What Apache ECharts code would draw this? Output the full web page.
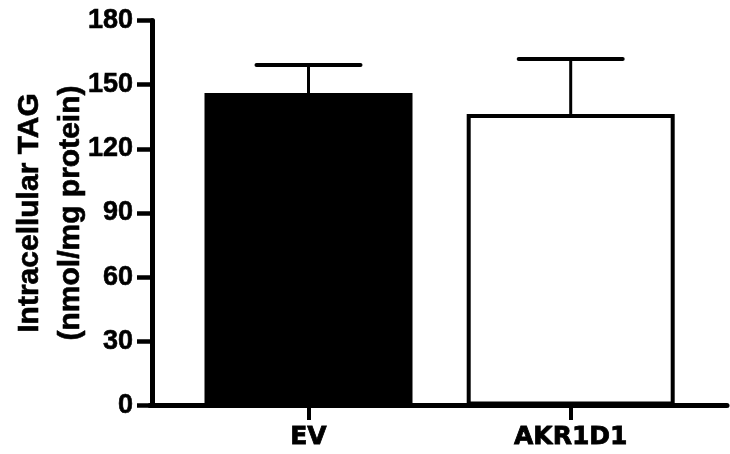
<!DOCTYPE html>
<html><head><meta charset="utf-8">
<script src="https://cdn.jsdelivr.net/npm/echarts@6/dist/echarts.min.js"></script>
<style>html,body{margin:0;padding:0;background:#fff}#c{width:730px;height:454px}</style>
</head><body><div id="c"></div>
<script>
const categories = ['EV', 'AKR1D1'];
const means = [146.1, 136.3];
const upperErrors = [13.1, 25.7];
const yTitleLines = ['Intracellular TAG', '(nmol/mg protein)'];
const fillColors = ['#000000', '#ffffff'];

const arialFont = '"Liberation Sans", Arial, Helvetica, sans-serif';
const wideFont = '"DejaVu Sans", "Liberation Sans", Arial, sans-serif';
const chart = echarts.init(document.getElementById('c'));
const gTop = 20.5, gBottom = 48.5;
chart.setOption({
  animation: false,
  backgroundColor: '#fff',
  grid: [
    { left: 177.4, right: 28.2, top: gTop, bottom: gBottom, containLabel: false, outerBoundsMode: 'none' },
    { left: 150, right: 3, top: gTop, bottom: gBottom, containLabel: false, outerBoundsMode: 'none' }
  ],
  xAxis: [
    { type: 'category', gridIndex: 0, data: categories, boundaryGap: true,
      axisLine: { show: false },
      axisTick: { show: true, alignWithLabel: true, length: 14.5, lineStyle: { width: 4, color: '#000' } },
      axisLabel: { margin: 19, color: '#000', fontSize: 25, fontWeight: 'bold', fontFamily: wideFont,
        textBorderColor: '#000', textBorderWidth: 0.8 },
      splitLine: { show: false } },
    { type: 'value', gridIndex: 1, min: 0, max: 1,
      axisLine: { show: true, onZero: false, lineStyle: { width: 5, color: '#000' } },
      axisTick: { show: false }, axisLabel: { show: false }, splitLine: { show: false } }
  ],
  yAxis: [
    { type: 'value', gridIndex: 0, min: 0, max: 180, interval: 30, offset: 25.4,
      axisLine: { show: true, lineStyle: { width: 5, color: '#000' } },
      axisTick: { show: true, length: 15, lineStyle: { width: 4.5, color: '#000' } },
      axisLabel: { margin: 19, color: '#000', fontSize: 27, fontWeight: 'bold', fontFamily: arialFont,
        textBorderColor: '#000', textBorderWidth: 0.6 },
      splitLine: { show: false },
      name: yTitleLines.join('\n'), nameLocation: 'middle', nameGap: 61, nameRotate: 90,
      nameMoveOverlap: false,
      nameTextStyle: { fontSize: 30, fontWeight: 'bold', lineHeight: 41, color: '#000', fontFamily: arialFont,
        textBorderColor: '#000', textBorderWidth: 0.6 } },
    { type: 'value', gridIndex: 1, min: 0, max: 1, show: false }
  ],
  series: [
    { type: 'bar', xAxisIndex: 0, yAxisIndex: 0, barWidth: 208,
      data: means.map((v, i) => ({ value: v, itemStyle: { color: fillColors[i], borderColor: '#000', borderWidth: 4 } })),
      z: 2 },
    { type: 'custom', xAxisIndex: 0, yAxisIndex: 0, z: 3,
      data: means.map((v, i) => [i, v, v + upperErrors[i]]),
      renderItem: function (params, api) {
        const x = api.value(0);
        const base = api.coord([x, api.value(1)]);
        const hi = api.coord([x, api.value(2)]);
        const half = 52;
        return { type: 'group', children: [
          { type: 'line', shape: { x1: base[0], y1: base[1], x2: hi[0], y2: hi[1] }, style: { stroke: '#000', lineWidth: 3 } },
          { type: 'line', shape: { x1: hi[0] - half, y1: hi[1], x2: hi[0] + half, y2: hi[1] }, style: { stroke: '#000', lineWidth: 4, lineCap: 'round' } }
        ] };
      } }
  ]
});
</script></body></html>
